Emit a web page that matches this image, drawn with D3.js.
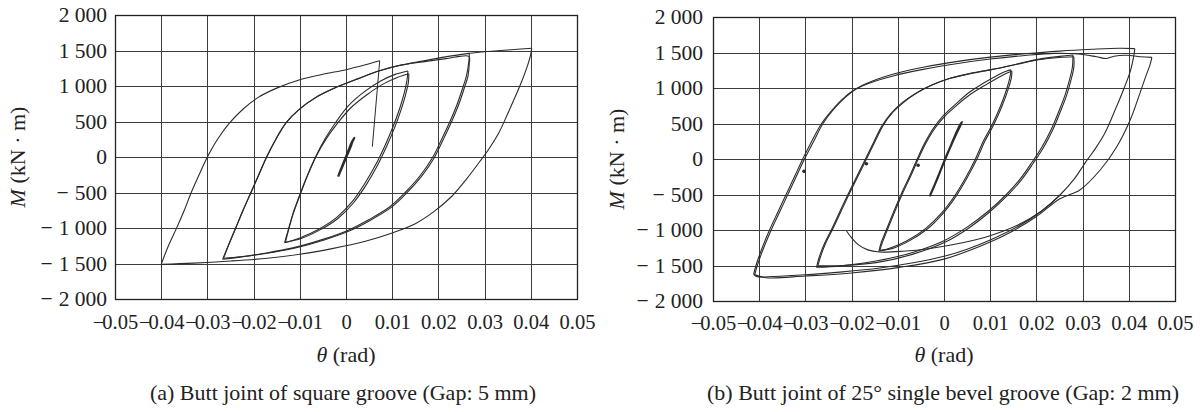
<!DOCTYPE html>
<html>
<head>
<meta charset="utf-8">
<script src="https://cdn.jsdelivr.net/npm/d3@7"></script>
<style>
body { margin: 0; background: #fff; }
text { font-family: "Liberation Serif", "Times New Roman", serif; fill: #222; }
</style>
</head>
<body>
<svg id="chart" width="1200" height="412"></svg>
<script>
// axis ticks
const thetaTicks = [-0.05, -0.04, -0.03, -0.02, -0.01, 0, 0.01, 0.02, 0.03, 0.04, 0.05]
const momentTicks = [-2000, -1500, -1000, -500, 0, 500, 1000, 1500, 2000]

const captions = ['(a) Butt joint of square groove (Gap: 5 mm)', '(b) Butt joint of 25\u00B0 single bevel groove (Gap: 2 mm)']

// (a) square groove, [theta (rad), M (kN.m)] ; each loop: left tip -> right tip -> left tip
const aElastic = [[-0.0017,-277],[-0.0008,-140],[0.0000,-10],[0.0008,110],[0.0015,230],[0.0018,270],[0.0012,200],[0.0004,70],[-0.0004,-60],[-0.0012,-190],[-0.0017,-277]]

const aLoop13a = [[-0.0133,-1207],[-0.0126,-1050],[-0.0115,-800],[-0.0101,-550],[-0.0085,-280],[-0.0066,0],[-0.0045,260],[-0.0022,490],[0.0005,720],[0.0040,920],[0.0075,1070],[0.0105,1160],[0.0134,1211],
	[0.0132,1080],[0.0126,900],[0.0116,680],[0.0102,430],[0.0085,170],[0.0065,-100],[0.0040,-380],[0.0012,-640],[-0.0020,-850],[-0.0060,-1020],[-0.0100,-1140],[-0.0133,-1207]]

const aLoop13b = [[-0.0131,-1200],[-0.0125,-1045],[-0.0114,-795],[-0.0100,-545],[-0.0084,-275],[-0.0065,5],[-0.0043,255],[-0.0019,470],[0.0010,690],[0.0046,880],[0.0081,1030],[0.0111,1120],[0.0136,1172],
	[0.0135,1050],[0.0129,880],[0.0119,660],[0.0105,410],[0.0088,150],[0.0068,-120],[0.0043,-400],[0.0015,-655],[-0.0017,-862],[-0.0057,-1030],[-0.0097,-1148],[-0.0131,-1200]]

const aLoop27a = [[-0.0267,-1441],[-0.0255,-1250],[-0.0239,-1000],[-0.0223,-750],[-0.0206,-500],[-0.0189,-250],[-0.0172,0],[-0.0152,250],[-0.0130,480],[-0.0103,660],[-0.0065,840],[-0.0025,970],[0.0025,1100],[0.0073,1215],[0.0120,1295],[0.0165,1350],[0.0215,1410],[0.0267,1460],
	[0.0266,1350],[0.0261,1150],[0.0254,1000],[0.0241,750],[0.0225,500],[0.0207,250],[0.0188,0],[0.0162,-250],[0.0128,-500],[0.0095,-700],[0.0050,-880],[0.0005,-1030],[-0.0050,-1160],[-0.0115,-1280],[-0.0180,-1360],[-0.0230,-1410],[-0.0267,-1441]]

const aLoop27b = [[-0.0265,-1425],[-0.0254,-1240],[-0.0238,-992],[-0.0222,-742],[-0.0205,-492],[-0.0188,-242],[-0.0171,8],[-0.0151,258],[-0.0129,488],[-0.0102,668],[-0.0064,846],[-0.0024,975],[0.0026,1104],[0.0074,1218],[0.0121,1297],[0.0166,1340],[0.0216,1385],[0.0266,1418],
	[0.0267,1330],[0.0264,1140],[0.0257,990],[0.0244,740],[0.0228,490],[0.0210,240],[0.0191,-10],[0.0165,-260],[0.0131,-510],[0.0098,-710],[0.0053,-890],[0.0008,-1040],[-0.0047,-1168],[-0.0112,-1285],[-0.0177,-1362],[-0.0228,-1405],[-0.0265,-1425]]

const aLoop40Rise = [[0.0262,1458],[0.0300,1482],[0.0350,1507],[0.0402,1531]]

const aLoop40Down = [[0.0402,1531],[0.0399,1420],[0.0392,1270],[0.0380,1060],[0.0365,830],[0.0348,580],[0.0330,330],[0.0310,120],[0.0290,-60],[0.0262,-300],[0.0228,-560],[0.0190,-770],[0.0150,-940],[0.0100,-1070],[0.0040,-1190],[-0.0030,-1290],[-0.0100,-1370],[-0.0170,-1425],[-0.0250,-1465],[-0.0330,-1495],[-0.0400,-1512]]

const aLoop40Up = [[-0.0400,-1512],[-0.0385,-1260],[-0.0367,-1005],[-0.0350,-750],[-0.0335,-500],[-0.0318,-250],[-0.0300,0],[-0.0278,250],[-0.0252,480],[-0.0222,680],[-0.0190,840],[-0.0150,970],[-0.0100,1088],[-0.0050,1165],[0.0000,1230],[0.0040,1295],[0.0073,1356]]

const aFracture = [[0.0073,1356],[0.0057,145]]

// (b) 25 deg single bevel groove
const bElastic = [[-0.0031,-526],[-0.0020,-360],[-0.0008,-170],[0.0005,40],[0.0018,230],[0.0030,400],[0.0039,521],[0.0034,470],[0.0022,300],[0.0010,110],[-0.0003,-90],[-0.0016,-300],[-0.0031,-526]]

const bLoop14a = [[-0.0141,-1300],[-0.0136,-1180],[-0.0125,-1000],[-0.0110,-760],[-0.0093,-500],[-0.0075,-250],[-0.0058,0],[-0.0042,220],[-0.0023,432],[0.0000,620],[0.0027,784],[0.0055,940],[0.0085,1066],[0.0110,1160],[0.0136,1240],[0.0145,1255],
	[0.0143,1160],[0.0136,990],[0.0122,740],[0.0104,480],[0.0085,250],[0.0068,0],[0.0048,-250],[0.0025,-500],[-0.0005,-760],[-0.0040,-980],[-0.0080,-1150],[-0.0115,-1250],[-0.0141,-1300]]

const bLoop14b = [[-0.0139,-1285],[-0.0133,-1170],[-0.0122,-990],[-0.0107,-750],[-0.0090,-490],[-0.0072,-240],[-0.0055,10],[-0.0039,225],[-0.0020,430],[0.0003,610],[0.0030,770],[0.0058,915],[0.0088,1035],[0.0113,1130],[0.0138,1215],[0.0147,1235],
	[0.0146,1150],[0.0139,985],[0.0125,735],[0.0107,475],[0.0088,245],[0.0071,-5],[0.0051,-255],[0.0028,-505],[-0.0002,-765],[-0.0037,-990],[-0.0077,-1160],[-0.0113,-1262],[-0.0139,-1285]]

const bLoop28a = [[-0.0276,-1525],[-0.0270,-1380],[-0.0258,-1180],[-0.0244,-1000],[-0.0226,-750],[-0.0208,-500],[-0.0189,-250],[-0.0170,0],[-0.0152,240],[-0.0134,470],[-0.0115,640],[-0.0093,780],[-0.0065,910],[-0.0030,1030],[0.0010,1130],[0.0055,1200],[0.0100,1255],[0.0150,1325],[0.0200,1400],[0.0250,1445],[0.0279,1464],
	[0.0278,1300],[0.0271,1100],[0.0262,900],[0.0249,680],[0.0233,430],[0.0213,180],[0.0190,-50],[0.0165,-280],[0.0135,-500],[0.0095,-740],[0.0050,-960],[0.0000,-1150],[-0.0070,-1320],[-0.0150,-1440],[-0.0222,-1505],[-0.0276,-1525]]

const bLoop28b = [[-0.0273,-1505],[-0.0267,-1370],[-0.0255,-1170],[-0.0241,-990],[-0.0223,-740],[-0.0205,-490],[-0.0186,-240],[-0.0167,10],[-0.0149,250],[-0.0131,480],[-0.0111,655],[-0.0088,795],[-0.0060,925],[-0.0025,1045],[0.0015,1140],[0.0060,1210],[0.0105,1262],[0.0155,1330],[0.0205,1398],[0.0250,1430],[0.0281,1440],
	[0.0281,1290],[0.0274,1090],[0.0265,890],[0.0252,670],[0.0236,420],[0.0216,170],[0.0193,-60],[0.0168,-290],[0.0138,-510],[0.0098,-750],[0.0053,-975],[0.0003,-1170],[-0.0067,-1340],[-0.0147,-1460],[-0.0220,-1500],[-0.0273,-1505]]

const bLoop41a = [[-0.0410,-1640],[-0.0405,-1520],[-0.0395,-1330],[-0.0374,-1000],[-0.0356,-750],[-0.0338,-500],[-0.0320,-250],[-0.0302,0],[-0.0282,250],[-0.0262,500],[-0.0240,690],[-0.0215,860],[-0.0190,990],[-0.0160,1085],[-0.0107,1200],[-0.0042,1296],[0.0030,1375],[0.0100,1435],[0.0175,1482],[0.0250,1520],[0.0320,1545],[0.0380,1560],[0.0413,1555],
	[0.0411,1460],[0.0404,1253],[0.0390,1000],[0.0371,700],[0.0348,362],[0.0328,150],[0.0308,-30],[0.0282,-280],[0.0251,-507],[0.0210,-740],[0.0160,-950],[0.0100,-1140],[0.0050,-1270],[0.0000,-1370],[-0.0070,-1465],[-0.0139,-1535],[-0.0220,-1590],[-0.0300,-1630],[-0.0370,-1655],[-0.0402,-1660],[-0.0410,-1640]]

const bLoop41b = [[-0.0412,-1625],[-0.0407,-1500],[-0.0397,-1310],[-0.0377,-990],[-0.0359,-740],[-0.0341,-490],[-0.0323,-240],[-0.0305,10],[-0.0286,255],[-0.0266,490],[-0.0246,660],[-0.0222,830],[-0.0197,960],[-0.0165,1060],[-0.0110,1170],[-0.0045,1262],[0.0030,1345],[0.0100,1408],[0.0175,1458],[0.0240,1488],[0.0290,1478],[0.0330,1440],[0.0352,1415],[0.0368,1448],[0.0395,1462],[0.0425,1440],[0.0450,1432],
	[0.0446,1330],[0.0436,1150],[0.0424,925],[0.0403,549],[0.0374,173],[0.0338,-155],[0.0294,-437],[0.0251,-560],[0.0200,-810],[0.0150,-1010],[0.0100,-1170],[0.0000,-1410],[-0.0100,-1530],[-0.0200,-1605],[-0.0300,-1648],[-0.0385,-1672],[-0.0412,-1625]]

const bLastPath = [[-0.0211,-1014],[-0.0200,-1110],[-0.0185,-1210],[-0.0165,-1280],[-0.0140,-1310],[-0.0090,-1300],[-0.0030,-1260],[0.0040,-1180],[0.0100,-1080],[0.0160,-930],[0.0210,-740],[0.0251,-510]]

const bBlips = [[-0.0303,-174],[-0.0168,-66],[-0.0056,-89]]


const svg = d3.select('#chart')

const tickFont = 21.5
const xTickFont = 20.5
const titleFont = 22

function fmtMoment(v){
	return d3.format(',')(Math.abs(v)).replace(/,/g, ' ')
}

function fmtTheta(v){
	if(v === 0) return '0'
	return Math.abs(v).toFixed(2)
}

// minus sign as its own tspan so the gap after it can be tuned
function addMinus(sel, gap){
	sel.selectAll('.tick text').each(function(d){
		if(d >= 0) return
		let t = d3.select(this)
		let body = t.text()
		t.text(null)
		t.append('tspan').text('\u2212')
		t.append('tspan').attr('dx', gap).text(body)
	})
}

// split a loop at its right tip so the corners stay sharp
function branches(pts){
	let i = d3.maxIndex(pts, d => d[0])
	if(i === pts.length - 1) return [pts]
	return [pts.slice(0, i + 1), pts.slice(i)]
}

function drawPanel(cfg){
	
	let xScale = d3.scaleLinear()
		.domain([-0.05, 0.05])
		.range([cfg.left, cfg.right])
		
	let yScale = d3.scaleLinear()
		.domain([-2000, 2000])
		.range([cfg.bottom, cfg.top])
	
	let g = svg.append('g')
	
	g.selectAll('.vgrid')
		.data(thetaTicks)
		.enter()
		.append('line')
		.attr('x1', d => Math.round(xScale(d)) + 0.5)
		.attr('x2', d => Math.round(xScale(d)) + 0.5)
		.attr('y1', cfg.top)
		.attr('y2', cfg.bottom)
		.attr('stroke', '#3c3c3c')
		.attr('stroke-width', 1)
		
	g.selectAll('.hgrid')
		.data(momentTicks)
		.enter()
		.append('line')
		.attr('x1', cfg.left)
		.attr('x2', cfg.right)
		.attr('y1', d => Math.round(yScale(d)) + 0.5)
		.attr('y2', d => Math.round(yScale(d)) + 0.5)
		.attr('stroke', '#3c3c3c')
		.attr('stroke-width', 1)
		
	g.append('rect')
		.attr('x', cfg.left + 0.5)
		.attr('y', cfg.top + 0.5)
		.attr('width', cfg.right - cfg.left)
		.attr('height', cfg.bottom - cfg.top)
		.attr('fill', 'none')
		.attr('stroke', '#222')
		.attr('stroke-width', 1.3)
	
	let yAxis = g.append('g')
		.attr('transform', `translate(${cfg.left},0)`)
		.call(d3.axisLeft(yScale).tickValues(momentTicks).tickSize(0).tickPadding(cfg.yPad).tickFormat(fmtMoment))
	yAxis.select('.domain').remove()
	yAxis.attr('font-family', null).attr('font-size', null)
	yAxis.selectAll('text').attr('font-size', tickFont).attr('fill', '#222')
	addMinus(yAxis, 6)
	
	let xAxis = g.append('g')
		.attr('transform', `translate(0,${cfg.bottom})`)
		.call(d3.axisBottom(xScale).tickValues(thetaTicks).tickSize(0).tickPadding(cfg.xPad).tickFormat(fmtTheta))
	xAxis.select('.domain').remove()
	xAxis.attr('font-family', null).attr('font-size', null)
	xAxis.selectAll('text').attr('font-size', xTickFont).attr('fill', '#222')
	addMinus(xAxis, -2)
	
	let xt = g.append('text')
		.attr('x', xScale(0))
		.attr('y', 362)
		.attr('text-anchor', 'middle')
		.attr('font-size', titleFont)
	xt.append('tspan').attr('font-style', 'italic').text('\u03B8')
	xt.append('tspan').text(' (rad)')
	
	let yt = g.append('text')
		.attr('transform', `translate(${cfg.yTitleX},${(cfg.top + cfg.bottom) / 2}) rotate(-90)`)
		.attr('text-anchor', 'middle')
		.attr('font-size', titleFont)
	yt.append('tspan').attr('font-style', 'italic').text('M')
	yt.append('tspan').text(' (kN \u00B7 m)')
	
	g.append('text')
		.attr('x', cfg.captionX)
		.attr('y', 400)
		.attr('text-anchor', 'middle')
		.attr('font-size', titleFont)
		.text(cfg.caption)
	
	let smooth = d3.line()
		.curve(d3.curveCatmullRom.alpha(0.5))
		.x(d => xScale(d[0]))
		.y(d => yScale(d[1]))
		
	let straight = d3.line()
		.x(d => xScale(d[0]))
		.y(d => yScale(d[1]))
	
	let paths = []
	cfg.loops.forEach(function(loop){
		branches(loop).forEach(b => paths.push(b))
	})
	
	g.selectAll('.curve')
		.data(paths)
		.enter()
		.append('path')
		.attr('class', 'curve')
		.attr('d', smooth)
		.attr('fill', 'none')
		.attr('stroke', '#2b2b2b')
		.attr('stroke-width', 1.1)
		.attr('stroke-linejoin', 'round')
		
	g.append('path')
		.datum(cfg.elastic)
		.attr('d', smooth)
		.attr('fill', 'none')
		.attr('stroke', '#2b2b2b')
		.attr('stroke-width', 2.2)
		
	if(cfg.straight)
		g.append('path')
			.datum(cfg.straight)
			.attr('d', straight)
			.attr('fill', 'none')
			.attr('stroke', '#2b2b2b')
			.attr('stroke-width', 1)
			
	if(cfg.blips)
		g.selectAll('.blip')
			.data(cfg.blips)
			.enter()
			.append('circle')
			.attr('cx', d => xScale(d[0]))
			.attr('cy', d => yScale(d[1]))
			.attr('r', 1.8)
			.attr('fill', '#2b2b2b')
}

drawPanel({
	left: 115, right: 577, top: 15, bottom: 299,
	yPad: 8, xPad: 15, yTitleX: 25, captionX: 343,
	caption: captions[0],
	loops: [aLoop13a, aLoop13b, aLoop27a, aLoop27b, aLoop40Rise, aLoop40Down, aLoop40Up],
	elastic: aElastic,
	straight: aFracture
})

drawPanel({
	left: 713, right: 1175, top: 17, bottom: 301,
	yPad: 10, xPad: 14, yTitleX: 624, captionX: 943,
	caption: captions[1],
	loops: [bLoop14a, bLoop14b, bLoop28a, bLoop28b, bLoop41a, bLoop41b, bLastPath],
	elastic: bElastic,
	blips: bBlips
})
</script>
</body>
</html>
